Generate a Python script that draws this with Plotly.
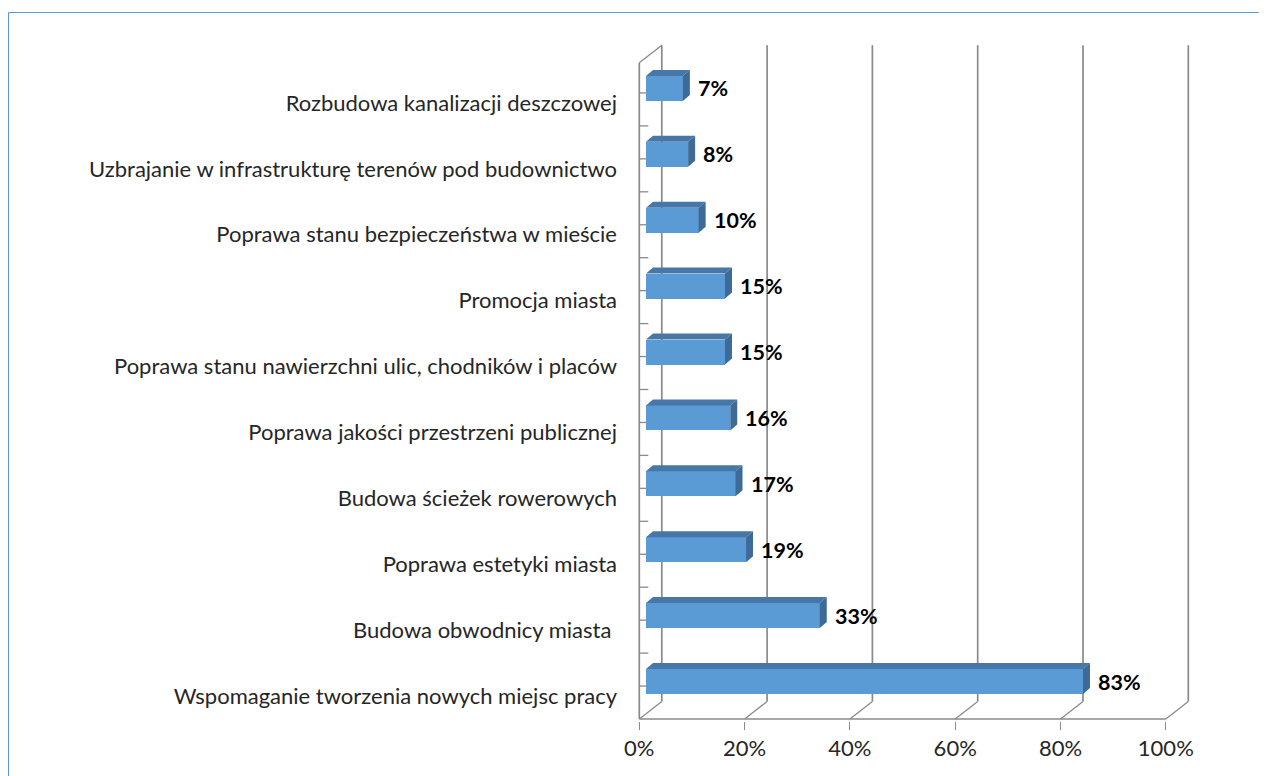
import plotly.graph_objects as go

# ---------------- data ----------------
categories = [
    "Wspomaganie tworzenia nowych miejsc pracy",
    "Budowa obwodnicy miasta ",
    "Poprawa estetyki miasta",
    "Budowa ścieżek rowerowych",
    "Poprawa jakości przestrzeni publicznej",
    "Poprawa stanu nawierzchni ulic, chodników i placów",
    "Promocja miasta",
    "Poprawa stanu bezpieczeństwa w mieście",
    "Uzbrajanie w infrastrukturę terenów pod budownictwo",
    "Rozbudowa kanalizacji deszczowej",
]
values = [83, 33, 19, 17, 16, 15, 15, 10, 8, 7]
value_labels = ["83%", "33%", "19%", "17%", "16%", "15%", "15%", "10%", "8%", "7%"]
x_ticks = [0, 20, 40, 60, 80, 100]
x_tick_labels = ["0%", "20%", "40%", "60%", "80%", "100%"]

# ---------------- style / geometry ----------------
FONT = "Lato, 'Open Sans', 'DejaVu Sans', sans-serif"
FRONT = "#5B9BD5"
TOP = "#4776A8"
SIDE = "#3D6A96"
GRID = "#8A8A8A"
TEXT = "#262626"

OFF = 8               # page body margin of the html page
px_x = 5.265          # pixels per percent
px_y = 65.9           # pixels per category
depth_dx = 22.5 / px_x    # wall depth in data units
depth_dy = 17.5 / px_y
bar_off = 6.7 / px_x      # bar front plane offset from front floor
bar_dx = 7.0 / px_x       # bar depth
bar_dy = 6.0 / px_y
bar_w = 25.0 / px_y
floor_y = -0.569
wall_top = 9.39

idx = list(range(len(categories)))

fig = go.Figure()

fig.add_trace(go.Bar(
    y=idx, x=values, base=bar_off, orientation="h", width=bar_w,
    marker=dict(color=FRONT, line=dict(width=0)),
    hoverinfo="skip", showlegend=False,
))

shapes = []
# back wall gridlines and floor diagonals
for v in x_ticks:
    shapes.append(dict(type="line", xref="x", yref="y", layer="below",
                       x0=v + depth_dx, x1=v + depth_dx,
                       y0=floor_y + depth_dy, y1=wall_top + depth_dy,
                       line=dict(color=GRID, width=1.7)))
    shapes.append(dict(type="line", xref="x", yref="y", layer="below",
                       x0=v, x1=v + depth_dx, y0=floor_y, y1=floor_y + depth_dy,
                       line=dict(color=GRID, width=1.3)))
# front floor line
shapes.append(dict(type="line", xref="x", yref="y", layer="below",
                   x0=0, x1=100, y0=floor_y, y1=floor_y,
                   line=dict(color=GRID, width=1.7)))
# left wall front edge and top diagonal
shapes.append(dict(type="line", xref="x", yref="y", layer="below",
                   x0=0, x1=0, y0=floor_y, y1=wall_top,
                   line=dict(color=GRID, width=1.7)))
shapes.append(dict(type="line", xref="x", yref="y", layer="below",
                   x0=0, x1=depth_dx, y0=wall_top, y1=wall_top + depth_dy,
                   line=dict(color=GRID, width=1.3)))
# left wall tick marks (every half category)
k = 0
while True:
    ty = floor_y + 0.5 * (k + 1)
    if ty > wall_top:
        break
    shapes.append(dict(type="line", xref="x", yref="y", layer="below",
                       x0=0, x1=9.0 / px_x, y0=ty, y1=ty,
                       line=dict(color=GRID, width=1.3)))
    k += 1

# 3D faces of bars
for i, v in zip(idx, values):
    xf0 = bar_off
    xf1 = bar_off + v
    yt = i + bar_w / 2
    yb = i - bar_w / 2
    shapes.append(dict(type="path", xref="x", yref="y", layer="above",
                       path=f"M{xf0},{yt} L{xf1},{yt} L{xf1 + bar_dx},{yt + bar_dy} L{xf0 + bar_dx},{yt + bar_dy} Z",
                       fillcolor=TOP, line=dict(width=0)))
    shapes.append(dict(type="path", xref="x", yref="y", layer="above",
                       path=f"M{xf1},{yt} L{xf1},{yb} L{xf1 + bar_dx},{yb + bar_dy} L{xf1 + bar_dx},{yt + bar_dy} Z",
                       fillcolor=SIDE, line=dict(width=0)))

# outer frame (blue border); coordinates given in screen pixels
W = 600.0
H = 691.0
def px2paper_x(p):
    return (p - 620.0) / W
def px2paper_y(p):
    return (721.0 - p) / H

shapes.append(dict(type="line", xref="paper", yref="paper",
                   x0=px2paper_x(8.5), x1=px2paper_x(1280), y0=px2paper_y(12.5), y1=px2paper_y(12.5),
                   line=dict(color="#5B9BD5", width=1.2)))
shapes.append(dict(type="line", xref="paper", yref="paper",
                   x0=px2paper_x(8.5), x1=px2paper_x(8.5), y0=px2paper_y(12.5), y1=px2paper_y(790),
                   line=dict(color="#5B9BD5", width=1.2)))

annotations = []
for i, v, lab in zip(idx, values, value_labels):
    annotations.append(dict(x=bar_off + v + bar_dx, y=i, xref="x", yref="y",
                            text=f"<b>{lab}</b>", showarrow=False,
                            xanchor="left", yanchor="middle", xshift=6,
                            font=dict(family=FONT, size=21.5, color="#000000")))

fig.update_layout(
    width=1267 - OFF, height=776 - OFF,
    margin=dict(l=620 - OFF, r=47, t=30 - OFF, b=55),
    paper_bgcolor="white", plot_bgcolor="white",
    shapes=shapes, annotations=annotations,
    bargap=0,
    xaxis=dict(range=[-19.3 / px_x, -19.3 / px_x + W / px_x],
               tickvals=x_ticks, ticktext=x_tick_labels,
               ticks="outside", ticklen=8, tickcolor=GRID, tickwidth=1.3,
               showgrid=False, zeroline=False, showline=False,
               tickfont=dict(family=FONT, size=22, color=TEXT),
               ticklabelstandoff=0, fixedrange=True),
    yaxis=dict(range=[(681.5 - 721) / px_y, (681.5 - 30) / px_y],
               tickvals=[i - 0.22 for i in idx], ticktext=categories,
               ticks="", showgrid=False, zeroline=False, showline=False,
               tickfont=dict(family=FONT, size=22, color=TEXT),
               ticklabelstandoff=2, fixedrange=True),
)

fig.write_html("out.html")
